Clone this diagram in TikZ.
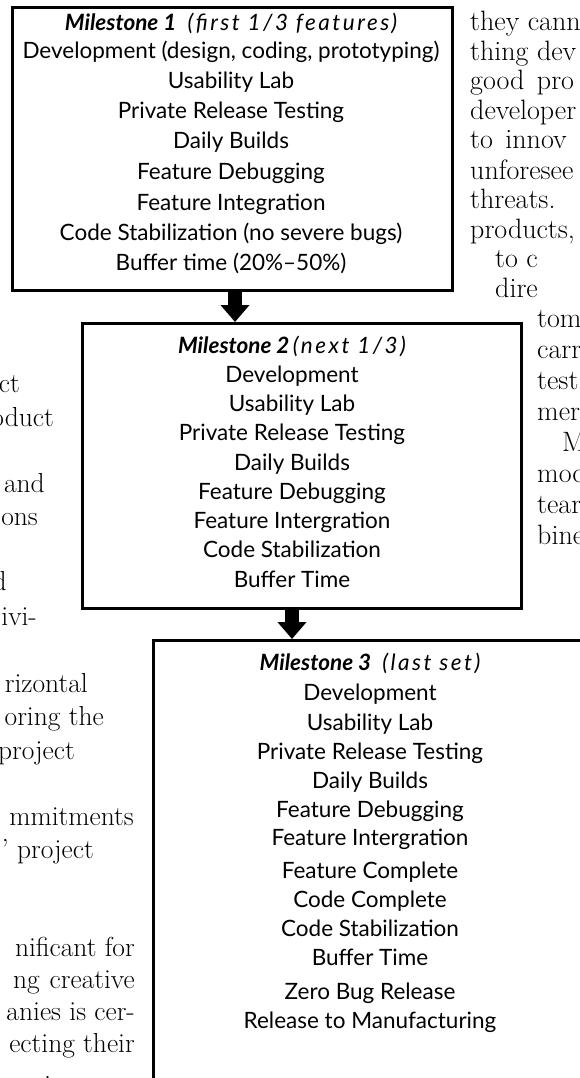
\documentclass[tikz,border=0pt]{standalone}
\usepackage{fontspec}
\newfontfamily\boxfont{Lato}
\usetikzlibrary{arrows.meta}
\newcommand\mstone[1]{{\bfseries\itshape #1}}
\newcommand\mnote[1]{{\itshape\addfontfeatures{LetterSpace=11}#1}}
\tikzset{
  mbox/.style={draw=black, line width=2.6pt, inner sep=0pt, anchor=north west},
  mline/.style={font=\boxfont\fontsize{22.5}{26}\selectfont, anchor=base, inner sep=0pt},
  bodyR/.style={font=\fontsize{28}{30}\selectfont, anchor=base west, inner sep=0pt},
  bodyL/.style={font=\fontsize{27.5}{30}\selectfont, anchor=base east, inner sep=0pt},
  blockarrow/.style={line width=14pt, -{Triangle[width=28pt,length=17pt]}},
}
\begin{document}
\begin{tikzpicture}[x=1pt,y=-1pt]
\useasboundingbox (0,0) rectangle (580,1078);
\clip (0,0) rectangle (580,1078);
\fill[white] (0,0) rectangle (580,1078);

% background text, right column
\foreach \yy/\xx/\txt [count=\i] in {
  25/470/they cann, 55/470/thing dev, 84/470/good\hspace{4pt} pro, 114/470/developer,
  143/470/to\hspace{4pt} innov, 173/470/unforesee, 202/470/threats., 232/470/{products,},
  261/495/to c, 291/495/dire, 321/537/tom, 352/537/carr, 383/537/test, 414/537/mer,
  445/562/M, 476/537/moc, 507/537/tear, 538/537/bine}
  \node[bodyR] (r\i) at (\xx,\yy+6) {\txt};

% background text, left column
\foreach \yy/\xx/\txt [count=\i] in {
  386/20/ct, 420/54/oduct, 486/45/and, 519/38/ons, 584/7/d, 619/37/ivi-,
  686/88/rizontal, 719/104/oring the, 753/75/project, 819/134/mmitments,
  852/94/’ project, 950/135/nificant for, 982/135/ng\hspace{10pt}creative,
  1014/135/anies is cer-, 1046/135/ecting their}
  \node[bodyL] (l\i) at (\xx,\yy+6) {\txt};
\node[bodyR] (lbot) at (44,1094) {i};

% boxes
\node[mbox, fill=white, minimum width=440pt, minimum height=283pt] (b1) at (11,6) {};
\node[mbox, fill=white, minimum width=439pt, minimum height=285pt] (b2) at (81,322) {};
\node[mbox, fill=white, minimum width=600pt, minimum height=600pt] (b3) at (152,639) {};

% arrows
\coordinate (ax1) at (235,0);
\coordinate (ax2) at (292,0);
\draw[blockarrow] (b1.south -| ax1) -- (b2.north -| ax1);
\draw[blockarrow] (b2.south -| ax2) -- (b3.north -| ax2);

% box 1
\node[mline] (t1) at (231,24+7) {\mstone{Milestone 1}\hspace{0.5em}\mnote{(first 1/3 features)}};
\foreach \yy/\txt [count=\i] in {52/{Development (design, coding, prototyping)},82/Usability Lab,112/Private Release Testing,142/Daily Builds,172/Feature Debugging,203/Feature Integration,233/{Code Stabilization (no severe bugs)},263/{Buffer time (20\%–50\%)}}
  \node[mline] (b1l\i) at (231,\yy+7) {\txt};

% box 2
\node[mline] (t2) at (292,346+7) {\mstone{Milestone 2}\hspace{0.15em}\mnote{(next 1/3)}};
\foreach \yy/\txt [count=\i] in {375/Development,404/Usability Lab,433/Private Release Testing,463/Daily Builds,492/Feature Debugging,521/Feature Intergration,550/Code Stabilization,580/Buffer Time}
  \node[mline] (b2l\i) at (292,\yy+7) {\txt};

% box 3
\node[mline] (t3) at (370,663+7) {\mstone{Milestone 3}\hspace{0.5em}\mnote{(last set)}};
\foreach \yy/\txt [count=\i] in {693/Development,723/Usability Lab,752/Private Release Testing,781/Daily Builds,810/Feature Debugging,838/Feature Intergration,871/Feature Complete,900/Code Complete,929/Code Stabilization,958/Buffer Time,992/Zero Bug Release,1021/Release to Manufacturing}
  \node[mline] (b3l\i) at (370,\yy+7) {\txt};
\end{tikzpicture}
\end{document}
